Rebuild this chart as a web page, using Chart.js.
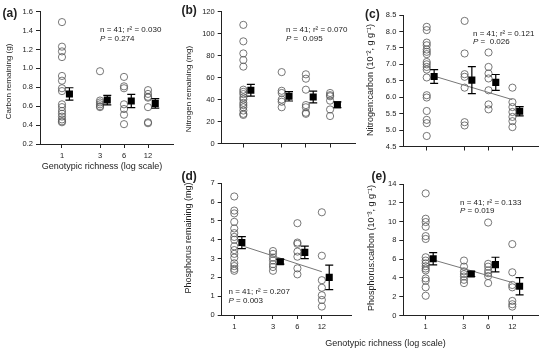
<!DOCTYPE html>
<html><head><meta charset="utf-8">
<script src="https://cdn.jsdelivr.net/npm/chart.js@4.4.1/dist/chart.umd.min.js"></script>
<style>
html,body{margin:0;padding:0;background:#fff;}
#wrap{position:relative;width:553px;height:355px;overflow:hidden;background:#fff;}
#wrap canvas{position:absolute;left:0;top:0;}
</style></head><body>
<div id="wrap">
<canvas id="pa" width="553" height="355"></canvas>
<canvas id="pb" width="553" height="355"></canvas>
<canvas id="pc" width="553" height="355"></canvas>
<canvas id="pd" width="553" height="355"></canvas>
<canvas id="pe" width="553" height="355"></canvas>
</div>
<script>
// ---------------- data ----------------
const richness = [1, 3, 6, 12];
const richnessLabels = ['1', '3', '6', '12'];
const meanRichness = [1.24, 3.7, 7.4, 14.8];

// (a) Carbon remaining (g)
const carbonPoints = [
  [1.49, 1.23, 1.18, 1.12, 0.92, 0.87, 0.79, 0.76, 0.62, 0.59, 0.55, 0.52, 0.49, 0.46, 0.44, 0.43],
  [0.97, 0.66, 0.64, 0.62, 0.60, 0.59],
  [0.91, 0.81, 0.79, 0.62, 0.57, 0.51, 0.41],
  [0.77, 0.73, 0.70, 0.69, 0.59, 0.43, 0.42]
];
const carbonMean = [0.73, 0.665, 0.655, 0.63];
const carbonSE = [0.065, 0.05, 0.07, 0.05];
const carbonTicks = [0.2, 0.4, 0.6, 0.8, 1.0, 1.2, 1.4, 1.6];

// (b) Nitrogen remaining (mg)
const nitrogenPoints = [
  [108, 93, 82, 76, 70, 49, 47, 45, 42, 40, 37, 35, 33, 30, 27, 26],
  [65, 48, 46, 40, 38, 33],
  [63, 59, 49, 35, 33, 28, 27],
  [46, 44, 43, 39, 31, 25]
];
const nitrogenMean = [48.5, 43, 42.3, 35.3];
const nitrogenSE = [5.3, 4.3, 5.3, 2.6];
const nitrogenTicks = [0, 20, 40, 60, 80, 100, 120];

// (c) Nitrogen:carbon
const ncPoints = [
  [8.14, 8.04, 7.66, 7.58, 7.45, 7.38, 7.31, 7.07, 7.0, 6.92, 6.84, 6.6, 6.06, 5.99, 5.58, 5.31, 5.21, 4.82],
  [8.32, 7.33, 6.7, 6.62, 6.29, 5.24, 5.14],
  [7.36, 6.92, 6.72, 6.57, 6.21, 5.78, 5.63],
  [6.29, 5.85, 5.7, 5.55, 5.4, 5.27, 5.09]
];
const ncMean = [6.63, 6.52, 6.45, 5.57];
const ncSE = [0.21, 0.41, 0.24, 0.14];
const ncFitX = [1.24, 12];
const ncFitY = [6.64, 5.925];
const ncTicks = [4.5, 5.0, 5.5, 6.0, 6.5, 7.0, 7.5, 8.0, 8.5];

// (d) Phosphorus remaining (mg)
const phosPoints = [
  [6.3, 5.55, 5.4, 4.95, 4.6, 4.35, 4.15, 4.0, 3.65, 3.45, 3.25, 3.05, 2.75, 2.6, 2.45, 2.35],
  [3.4, 3.25, 3.05, 2.9, 2.7, 2.55, 2.35],
  [4.88, 3.85, 3.78, 3.37, 3.1, 2.48, 2.16],
  [5.46, 3.15, 1.85, 1.45, 1.05, 0.8, 0.45]
];
const phosMean = [3.85, 2.83, 3.33, 2.0];
const phosSE = [0.32, 0.13, 0.33, 0.65];
const phosFitX = [1.24, 12];
const phosFitY = [3.68, 2.30];
const phosTicks = [0, 1, 2, 3, 4, 5, 6, 7];

// (e) Phosphorus:carbon
const pcPoints = [
  [13.0, 10.3, 9.95, 9.45, 8.45, 8.15, 6.2, 5.85, 5.55, 5.25, 5.0, 4.8, 3.95, 3.7, 3.0, 2.1],
  [5.85, 5.2, 4.7, 4.4, 4.15, 3.8, 3.45],
  [9.9, 5.5, 5.2, 4.8, 4.5, 4.2, 3.45],
  [7.6, 4.6, 3.25, 3.0, 1.55, 1.2, 0.95]
];
const pcMean = [6.05, 4.42, 5.42, 3.12];
const pcSE = [0.65, 0.27, 0.78, 0.92];
const pcFitX = [1.24, 12];
const pcFitY = [5.92, 3.51];
const pcTicks = [0, 2, 4, 6, 8, 10, 12, 14];

// ---------------- drawing ----------------
const FONT = "'Liberation Sans', Arial, Helvetica, sans-serif";
const INK = '#222';
const W = 553, H = 355, YAXW = 30, XAXH = 30;

const errorBarPlugin = {
  id: 'errorBars',
  beforeDatasetDraw(chart, args) {
    const ds = chart.data.datasets[args.index];
    if (!ds.se) return;
    const ys = chart.scales.y, ctx = chart.ctx;
    ctx.save();
    ctx.strokeStyle = '#000';
    ctx.lineWidth = 1.2;
    args.meta.data.forEach((pt, i) => {
      const m = ds.data[i].y, s = ds.se[i];
      const yT = ys.getPixelForValue(m + s), yB = ys.getPixelForValue(m - s);
      const x = pt.x;
      ctx.beginPath();
      ctx.moveTo(x, yT); ctx.lineTo(x, yB);
      ctx.moveTo(x - 4, yT); ctx.lineTo(x + 4, yT);
      ctx.moveTo(x - 4, yB); ctx.lineTo(x + 4, yB);
      ctx.stroke();
    });
    ctx.restore();
  }
};

const textPlugin = {
  id: 'texts',
  afterDraw(chart, args, opts) {
    const ctx = chart.ctx;
    (opts.items || []).forEach(it => {
      ctx.save();
      ctx.fillStyle = INK;
      ctx.textBaseline = 'middle';
      ctx.translate(it.x, it.y);
      if (it.rotate) ctx.rotate(it.rotate);
      const parts = it.parts || [{ t: it.text }];
      const fontOf = p => `${p.italic ? 'italic ' : ''}${it.bold ? 'bold ' : ''}${it.size}px ${FONT}`;
      let total = 0;
      parts.forEach(p => { ctx.font = fontOf(p); total += ctx.measureText(p.t).width; });
      let cx = it.align === 'center' ? -total / 2 : 0;
      ctx.textAlign = 'left';
      parts.forEach(p => { ctx.font = fontOf(p); ctx.fillText(p.t, cx, 0); cx += ctx.measureText(p.t).width; });
      ctx.restore();
    });
  }
};

function makePanel(id, cfg) {
  const pts = [];
  cfg.points.forEach((grp, i) => grp.forEach(v => pts.push({ x: richness[i], y: v })));
  const means = cfg.mean.map((m, i) => ({ x: meanRichness[i], y: m }));
  const datasets = [
    { label: 'mean', data: means, pointStyle: 'rect', pointRadius: 5, pointHoverRadius: 5,
      backgroundColor: '#000', borderColor: '#000', borderWidth: 0, se: cfg.se, order: 0 },
    { label: 'points', data: pts, pointStyle: 'circle', pointRadius: 3.6, pointHoverRadius: 3.6,
      borderWidth: 0.8, borderColor: '#555', backgroundColor: 'rgba(255,255,255,0)', order: 2 }
  ];
  if (cfg.fitX) {
    datasets.push({ label: 'fit', data: cfg.fitX.map((x, i) => ({ x, y: cfg.fitY[i] })),
      showLine: true, pointRadius: 0, borderColor: '#777', borderWidth: 1, order: 1 });
  }
  const axisCommon = {
    grid: { display: true, drawOnChartArea: false, drawTicks: true, tickLength: 4, color: INK, lineWidth: 1 },
    border: { display: true, color: INK, width: 1 }
  };
  return new Chart(document.getElementById(id), {
    type: 'scatter',
    data: { datasets },
    options: {
      responsive: false, animation: false, devicePixelRatio: 1,
      layout: { padding: { left: cfg.left - YAXW, right: W - cfg.right, top: cfg.top, bottom: H - cfg.bottom - XAXH } },
      plugins: { legend: { display: false }, tooltip: { enabled: false }, texts: { items: cfg.texts } },
      scales: {
        x: Object.assign({}, axisCommon, {
          type: 'logarithmic', min: cfg.xmin, max: cfg.xmax,
          afterBuildTicks: s => { s.ticks = richness.map(v => ({ value: v })); },
          afterFit: s => { s.height = XAXH; },
          ticks: { autoSkip: false, maxRotation: 0, padding: 3, color: INK, font: { family: FONT, size: 7.5 },
            callback: v => cfg.xLabels ? richnessLabels[richness.indexOf(v)] : '' }
        }),
        y: Object.assign({}, axisCommon, {
          type: 'linear', min: cfg.yTicks[0], max: cfg.yTicks[cfg.yTicks.length - 1],
          afterBuildTicks: s => { s.ticks = cfg.yTicks.map(v => ({ value: v })); },
          afterFit: s => { s.width = YAXW; },
          ticks: { padding: 3, color: INK, font: { family: FONT, size: 7.5 },
            callback: v => Number(v).toFixed(cfg.dec) }
        })
      }
    },
    plugins: [errorBarPlugin, textPlugin]
  });
}

const R90 = -Math.PI / 2;
const stat = (r2, p) => [
  [{ t: 'n = 41; r² = ' + r2 }],
  [{ t: 'P', italic: true }, { t: ' = ' + p }]
];

function statItems(x, y1, y2, r2, p) {
  const s = stat(r2, p);
  return [{ x, y: y1, size: 8, parts: s[0] }, { x, y: y2, size: 8, parts: s[1] }];
}

makePanel('pa', {
  left: 40, right: 173, top: 11.7, bottom: 144, xmin: 0.53, xmax: 24.7, xLabels: true,
  points: carbonPoints, mean: carbonMean, se: carbonSE, yTicks: carbonTicks, dec: 1,
  texts: [
    { x: 2.5, y: 14, size: 12, bold: true, text: '(a)' },
    { x: 8.5, y: 81.5, size: 8, rotate: R90, align: 'center', text: 'Carbon remaining (g)' },
    { x: 102, y: 167, size: 9, align: 'center', text: 'Genotypic richness (log scale)' },
    ...statItems(100, 30, 38.5, '0.030', '0.274')
  ]
});

makePanel('pb', {
  left: 221.7, right: 355, top: 11.7, bottom: 143.5, xmin: 0.538, xmax: 24.5, xLabels: false,
  points: nitrogenPoints, mean: nitrogenMean, se: nitrogenSE, yTicks: nitrogenTicks, dec: 0,
  texts: [
    { x: 181.5, y: 11, size: 12, bold: true, text: '(b)' },
    { x: 188.5, y: 89, size: 8, rotate: R90, align: 'center', text: 'Nitrogen remaining (mg)' },
    ...statItems(286, 30, 38.5, '0.070', ' 0.095')
  ]
});

makePanel('pc', {
  left: 403.3, right: 538.3, top: 15, bottom: 146.5, xmin: 0.507, xmax: 25.4, xLabels: false,
  points: ncPoints, mean: ncMean, se: ncSE, fitX: ncFitX, fitY: ncFitY, yTicks: ncTicks, dec: 1,
  texts: [
    { x: 365, y: 15, size: 12, bold: true, text: '(c)' },
    { x: 370.5, y: 80, size: 9, rotate: R90, align: 'center', text: 'Nitrogen:carbon (10⁻², g g⁻¹)' },
    ...statItems(473, 34, 42, '0.121', ' 0.026')
  ]
});

makePanel('pd', {
  left: 221.7, right: 351.7, top: 183.3, bottom: 315, xmin: 0.718, xmax: 28, xLabels: true,
  points: phosPoints, mean: phosMean, se: phosSE, fitX: phosFitX, fitY: phosFitY, yTicks: phosTicks, dec: 0,
  texts: [
    { x: 181.5, y: 177, size: 12, bold: true, text: '(d)' },
    { x: 189, y: 238, size: 9, rotate: R90, align: 'center', text: 'Phosphorus remaining (mg)' },
    ...statItems(228.5, 291.7, 300.7, '0.207', '0.003')
  ]
});

makePanel('pe', {
  left: 403.3, right: 538.3, top: 184, bottom: 315.5, xmin: 0.526, xmax: 25.3, xLabels: true,
  points: pcPoints, mean: pcMean, se: pcSE, fitX: pcFitX, fitY: pcFitY, yTicks: pcTicks, dec: 0,
  texts: [
    { x: 371.5, y: 177, size: 12, bold: true, text: '(e)' },
    { x: 372, y: 248, size: 9, rotate: R90, align: 'center', text: 'Phosphorus:carbon (10⁻³, g g⁻¹)' },
    { x: 385.5, y: 343.5, size: 9, align: 'center', text: 'Genotypic richness (log scale)' },
    ...statItems(460, 202.3, 211, '0.133', '0.019')
  ]
});
</script>
</body></html>
